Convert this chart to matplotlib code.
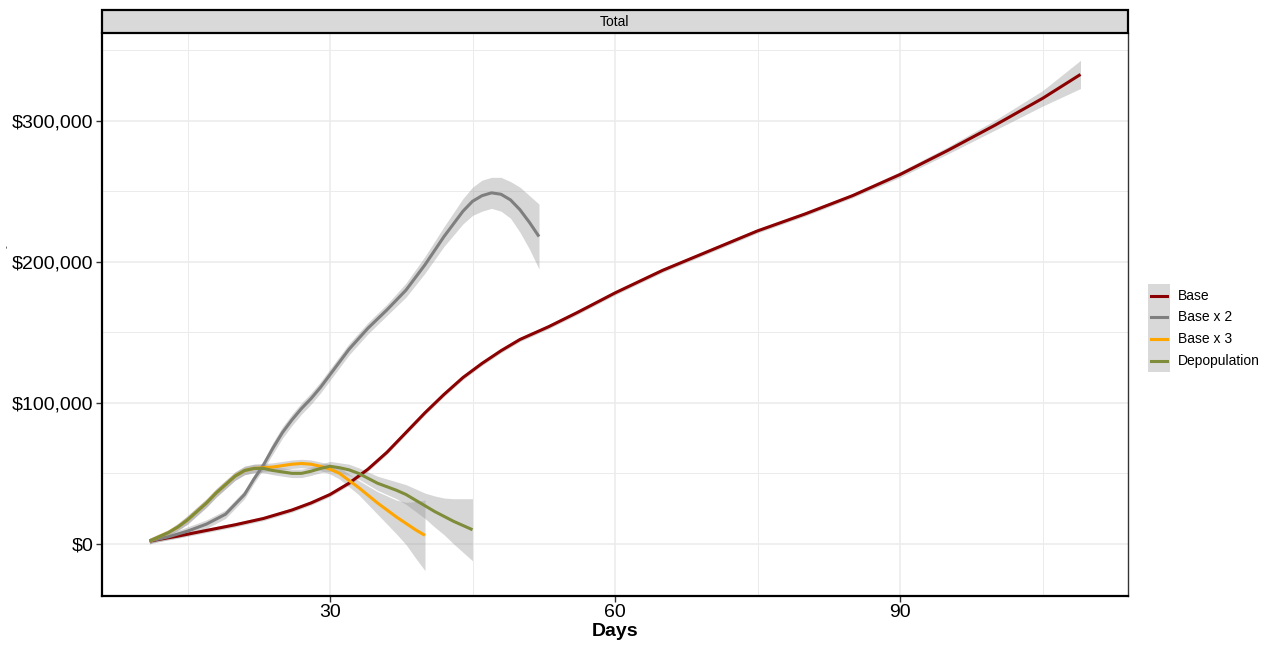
import matplotlib
matplotlib.use("Agg")
import matplotlib.pyplot as plt
from matplotlib.patches import Rectangle
from matplotlib.lines import Line2D
from matplotlib.ticker import FuncFormatter, MultipleLocator
import numpy as np

plt.rcParams['font.family'] = ['Liberation Sans', 'DejaVu Sans']

# ---- data (values in $1000) ----
base_days = [11, 14, 17, 20, 23, 26, 28, 30, 32, 34, 36, 38, 40, 42, 44, 46, 48, 50, 53, 56,
             60, 65, 70, 75, 80, 85, 90, 95, 100, 105, 109]
base_vals = [2, 5.5, 9.5, 13.5, 18, 24, 29, 35, 43, 53, 65, 79, 93, 106, 118, 128, 137, 145, 154, 164,
             178, 194, 208, 222, 234, 247, 262, 279, 297, 316, 333]
base_se = [1.5] * 26 + [2, 2.5, 3.5, 5.5, 10]

x2_days = [11, 13, 15, 17, 19, 21, 22, 23, 24, 25, 26, 27, 28, 29, 30, 32, 34, 36, 38, 40,
           42, 44, 45, 46, 47, 48, 49, 50, 51, 52]
x2_vals = [2, 5, 9, 14, 21, 35, 46, 56, 68, 79, 88, 96, 103, 111, 120, 138, 153, 166, 180, 198,
           218, 236, 243, 247, 249, 248, 244, 237, 228, 218]
x2_se = [2, 2, 3, 3, 3, 3, 3, 3, 4, 4, 4, 4, 4, 4, 4, 4, 4, 4, 5, 6,
         7, 9, 10, 11, 11, 12, 13, 16, 19, 23]

x3_days = list(range(11, 41))
x3_vals = [2, 5, 8, 12, 17, 23, 29, 36, 42, 48, 52, 53.5, 54, 54.5, 55.5, 56.5, 57, 56.5, 55, 53,
           50, 45, 40, 34.5, 29, 24, 19, 14.5, 10, 6]
x3_se = [2, 2, 2, 2.5, 3, 3, 3, 3, 3, 3, 3, 3, 3, 3, 3, 3, 3, 3, 3, 3.5,
         4, 4.5, 5, 6.5, 8, 10, 12, 15, 20, 25]

dep_days = list(range(11, 46))
dep_vals = [2, 5, 8, 12, 17, 23, 29, 36, 42, 48, 52, 53.5, 53.5, 52, 51, 50, 50, 51.5, 53.5, 55,
            54, 52.5, 50, 46.5, 43, 40.5, 38, 35, 31, 27, 23, 19.5, 16, 13, 10]
dep_se = [2, 2, 2, 2.5, 3, 3, 3, 3, 3, 3, 3, 3, 3, 3, 3, 3, 3, 3, 3, 3.5,
          3.5, 4, 4, 4.5, 5, 5.5, 6, 7, 8, 9, 11, 13, 16, 19, 22]

names = ["Base", "Base x 2", "Base x 3", "Depopulation"]
colors = ["#8B0000", "#7F7F7F", "#FFA500", "#7F8C3A"]
series = [(base_days, base_vals, base_se),
          (x2_days, x2_vals, x2_se),
          (x3_days, x3_vals, x3_se),
          (dep_days, dep_vals, dep_se)]

fig = plt.figure(figsize=(12.71, 6.48), dpi=100)
ax = fig.add_axes([102/1271, 1-596/648, 1026/1271, 563/648])

for (d, v, s), c in zip(series, colors):
    d = np.array(d)
    v = np.array(v) * 1000
    s = np.array(s) * 1000
    ax.fill_between(d, v - s, v + s, color="#999999", alpha=0.4, lw=0)
for (d, v, s), c in zip(series, colors):
    ax.plot(d, np.array(v) * 1000, color=c, lw=2.2, solid_capstyle="butt", solid_joinstyle="round")

ax.set_xlim(6, 114)
ax.set_ylim(-37000, 362400)
ax.xaxis.set_major_locator(MultipleLocator(30))
ax.xaxis.set_minor_locator(MultipleLocator(15))
ax.yaxis.set_major_locator(MultipleLocator(100000))
ax.yaxis.set_minor_locator(MultipleLocator(50000))
ax.yaxis.set_major_formatter(FuncFormatter(lambda y, p: f"${y:,.0f}"))
ax.grid(which="major", color="#EBEBEB", lw=1.1)
ax.grid(which="minor", color="#EBEBEB", lw=0.7)
ax.set_axisbelow(True)
ax.tick_params(which="minor", length=0)
ax.tick_params(which="major", length=4, width=1, color="#333333", labelsize=14,
               labelcolor="black", pad=2)
for side in ["left", "bottom"]:
    ax.spines[side].set_linewidth(1.6)
    ax.spines[side].set_color("black")
ax.spines["top"].set_visible(False)
ax.spines["right"].set_linewidth(1.0)
ax.spines["right"].set_color("#333333")

ax.set_xlabel("Days", fontsize=14, fontweight="bold", labelpad=1)
# tiny y-axis title mark at the far left
fig.text(7/1271, 1-247/648, "-", rotation=90, ha="center", va="center", fontsize=6)

# facet strip
strip = Rectangle((102/1271, 1-33/648), 1026/1271, 23/648, transform=fig.transFigure,
                  facecolor="#D9D9D9", edgecolor="black", lw=1.6)
fig.add_artist(strip)
fig.text((102+1128)/2/1271, 1-21.5/648, "Total", ha="center", va="center", fontsize=10)

# legend
ys = [296, 317, 339, 361]
fig.add_artist(Rectangle((1148/1271, 1-372/648), 22/1271, 88/648, transform=fig.transFigure,
                         facecolor="#D9D9D9", edgecolor="none"))
for n, c, y in zip(names, colors, ys):
    fig.add_artist(Line2D([1151/1271, 1167/1271], [1-y/648, 1-y/648], transform=fig.transFigure,
                          color=c, lw=2.2))
    fig.text(1178/1271, 1-y/648, n, ha="left", va="center", fontsize=10)

fig.savefig("out.png", dpi=100)
